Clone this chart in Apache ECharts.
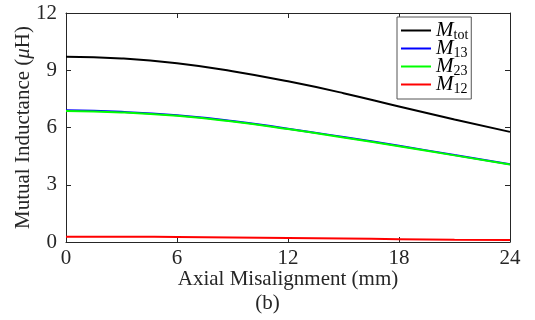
<!DOCTYPE html>
<html><head><meta charset="utf-8">
<script src="https://cdn.jsdelivr.net/npm/echarts@6/dist/echarts.min.js"></script>
<style>html,body{margin:0;padding:0;background:#fff}#c{width:535px;height:320px}</style>
</head><body><div id="c"></div>
<script>
const xValues = [0, 3, 6, 9, 12, 15, 18, 21, 24];
const Mtot = [9.71, 9.62, 9.37, 8.95, 8.42, 7.80, 7.10, 6.42, 5.77];
const M13 = [6.90, 6.82, 6.64, 6.34, 5.94, 5.50, 5.04, 4.56, 4.08];
const M23 = [6.86, 6.79, 6.61, 6.31, 5.92, 5.48, 5.02, 4.54, 4.06];
const M12 = [0.28, 0.28, 0.26, 0.24, 0.21, 0.18, 0.15, 0.12, 0.10];
const xTicks = [0, 6, 12, 18, 24];
const yTicks = [0, 3, 6, 9, 12];
const seriesNames = ['tot', '13', '23', '12'];
const colors = ['#000000', '#0000ff', '#00ff00', '#ff0000'];
const F = 'Liberation Serif';
const pairs = a => xValues.map((x, i) => [x, a[i]]);
const datasets = [Mtot, M13, M23, M12];
const axisLine = {onZero: false, lineStyle: {color: '#262626', width: 1}};
const tick = {inside: true, length: 5, lineStyle: {color: '#262626'}};
const chart = echarts.init(document.getElementById('c'));
chart.setOption({
  animation: false,
  grid: {left: 66, right: 25, top: 13, bottom: 78},
  xAxis: [{
    type: 'value', min: 0, max: 24, interval: 6, position: 'bottom',
    axisLine: axisLine, splitLine: {show: false}, axisTick: tick,
    axisLabel: {color: '#262626', fontFamily: F, fontSize: 21, margin: 6},
    name: 'Axial Misalignment (mm)', nameLocation: 'middle', nameGap: 27, nameMoveOverlap: false,
    nameTextStyle: {color: '#262626', fontFamily: F, fontSize: 21}
  }, {
    type: 'value', min: 0, max: 24, interval: 6, position: 'top',
    axisLine: axisLine, splitLine: {show: false}, axisTick: tick,
    axisLabel: {show: false}
  }],
  yAxis: [{
    type: 'value', min: 0, max: 12, interval: 3, position: 'left',
    axisLine: axisLine, splitLine: {show: false}, axisTick: tick,
    axisLabel: {color: '#262626', fontFamily: F, fontSize: 21, margin: 9},
    name: '{a|Mutual Inductance (}{i|μ}{a|H)}', nameLocation: 'middle', nameGap: 32, nameMoveOverlap: false,
    nameTextStyle: {rich: {
      a: {color: '#262626', fontFamily: F, fontSize: 21},
      i: {color: '#262626', fontFamily: F, fontSize: 21, fontStyle: 'italic'}
    }}
  }, {
    type: 'value', min: 0, max: 12, interval: 3, position: 'right',
    axisLine: axisLine, splitLine: {show: false}, axisTick: tick,
    axisLabel: {show: false}
  }],
  legend: {
    orient: 'vertical', left: 397, top: 17,
    padding: [3, 3, 3, 4], itemGap: -4,
    backgroundColor: '#fff', borderColor: '#555', borderWidth: 1, borderRadius: 0,
    icon: 'rect', itemWidth: 30, itemHeight: 2,
    formatter: n => '{m|M}{s|' + n.slice(1) + '}',
    textStyle: {rich: {
      m: {fontFamily: F, fontSize: 21, fontStyle: 'italic', color: '#000', height: 17, lineHeight: 17},
      s: {fontFamily: F, fontSize: 14, color: '#000', lineHeight: 9, height: 9, padding: [9, 0, 0, 0]}
    }},
    data: seriesNames.map(s => 'M' + s)
  },
  series: datasets.map((d, i) => ({
    name: 'M' + seriesNames[i], type: 'line', data: pairs(d), smooth: true,
    showSymbol: false, symbol: 'none', z: 2 + i,
    lineStyle: {color: colors[i], width: 2}, itemStyle: {color: colors[i]}
  })),
  graphic: [{
    type: 'text', left: 'center', top: 293,
    style: {text: '(b)', fontFamily: F, fontSize: 21, fill: '#262626', x: 22}
  }]
});
</script></body></html>
